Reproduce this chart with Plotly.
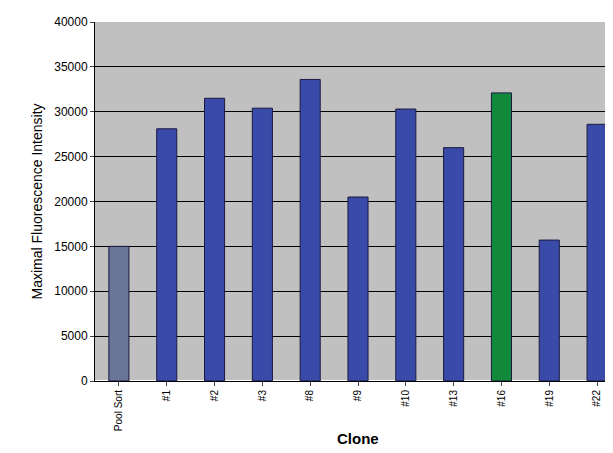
import plotly.graph_objects as go

clones = ["Pool Sort", "#1", "#2", "#3", "#8", "#9", "#10", "#13", "#16", "#19", "#22"]
intensity = [15000, 28100, 31500, 30400, 33600, 20500, 30300, 26000, 32100, 15700, 28600]
colors = ["#6b7598"] + ["#3a4aa8"] * 7 + ["#12883a"] + ["#3a4aa8"] * 2

fig = go.Figure(go.Bar(
    x=clones, y=intensity,
    marker=dict(color=colors, line=dict(color="#1a1a40", width=1)),
    width=0.42,
))
fig.update_layout(
    width=613, height=453,
    margin=dict(l=87, r=0, t=14, b=80, autoexpand=False),
    plot_bgcolor="#c0c0c0", paper_bgcolor="white",
    font=dict(family="Liberation Sans, Arial", size=12, color="black"),
    showlegend=False,
    bargap=0.5,
)
fig.update_xaxes(
    tickangle=-90, tickfont=dict(size=10), showline=True, linecolor="black",
    ticks="outside", ticklen=4, automargin=False,
)
fig.update_yaxes(
    title_text="Maximal Fluorescence Intensity", title_font=dict(size=14), title_standoff=8,
    range=[0, 40000], dtick=5000, tickformat="d", gridcolor="black", gridwidth=1,
    showline=True, linecolor="black", ticks="outside", ticklen=4,
    tickfont=dict(size=12), automargin=False,
)
fig.add_annotation(
    text="<b>Clone</b>", x=0.5, xref="paper", y=-0.16, yref="paper",
    yanchor="middle", showarrow=False, font=dict(size=15),
)
fig.write_html("out.html")
